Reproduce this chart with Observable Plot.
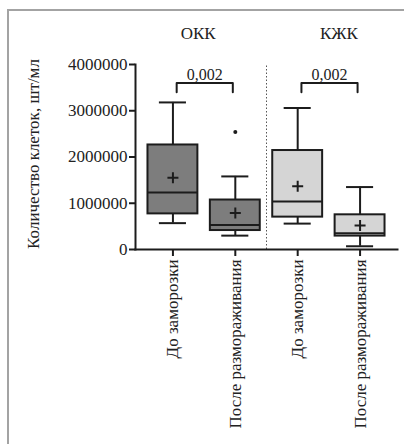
<!DOCTYPE html>
<html>
<head>
<meta charset="utf-8">
<script src="https://cdn.jsdelivr.net/npm/d3@7"></script>
<script src="https://cdn.jsdelivr.net/npm/@observablehq/plot@0.6"></script>
<style>
  html, body { margin: 0; padding: 0; background: #fff; }
  #wrap { position: relative; width: 404px; height: 444px; overflow: hidden; }
  #border { position: absolute; left: 7px; top: 9px; right: -4px; bottom: -4px;
            border-left: 2px solid #a3a3a3; border-top: 2px solid #a3a3a3; }
  #chart { position: absolute; left: 0; top: 0; }
</style>
</head>
<body>
<div id="wrap"><div id="border"></div><div id="chart"></div></div>
<script>
const groups = ["ОКК", "КЖК"];
const stages = ["До заморозки", "После размораживания"];
const q1 = [770000, 410000, 700000, 290000];
const median = [1230000, 530000, 1040000, 350000];
const q3 = [2260000, 1070000, 2140000, 750000];
const whiskerLow = [570000, 300000, 560000, 70000];
const whiskerHigh = [3180000, 1580000, 3060000, 1350000];
const mean = [1550000, 790000, 1370000, 520000];
const outlierIndex = [1];
const outlierValue = [2540000];
const pValues = ["0,002", "0,002"];
const yTicks = [0, 1000000, 2000000, 3000000, 4000000];
const yLabel = "Количество клеток, шт/мл";

const boxes = q1.map((_, i) => ({
  i, group: groups[Math.floor(i / 2)], stage: stages[i % 2],
  q1: q1[i], median: median[i], q3: q3[i],
  lo: whiskerLow[i], hi: whiskerHigh[i], mean: mean[i]
}));
const outliers = outlierIndex.map((i, k) => ({ i, value: outlierValue[k] }));

const half = 0.4, cap = 0.217;
const bTop = 3600000, bLeg = 3400000;
const brackets = pValues.map((p, g) => ({ g, x1: 2 * g + 0.06, x2: 2 * g + 0.96, p }));
const bracketPts = brackets.flatMap(b => [
  { g: b.g, x: b.x1, y: bLeg }, { g: b.g, x: b.x1, y: bTop },
  { g: b.g, x: b.x2, y: bTop }, { g: b.g, x: b.x2, y: bLeg }
]);
const titleShift = [-6, 10];

const plusSymbol = {
  draw(ctx, size) {
    const r = Math.sqrt(size / Math.PI);
    ctx.moveTo(-r, 0); ctx.lineTo(r, 0);
    ctx.moveTo(0, -r); ctx.lineTo(0, r);
  }
};

const ink = "#1c1c1c";
const chart = Plot.plot({
  width: 404, height: 444,
  marginTop: 64, marginBottom: 195, marginLeft: 135, marginRight: 7,
  style: { fontFamily: "'Liberation Serif', 'Times New Roman', serif", fontSize: "17px", color: "#222", background: "transparent" },
  x: { domain: [-0.6, 3.6], axis: null },
  y: { domain: [0, 4000000], axis: null },
  color: { domain: groups, range: ["#7d7d7d", "#d5d5d5"] },
  marks: [
    Plot.ruleX(boxes, { x: "i", y1: "q3", y2: "hi", stroke: ink, strokeWidth: 2 }),
    Plot.ruleX(boxes, { x: "i", y1: "lo", y2: "q1", stroke: ink, strokeWidth: 2 }),
    Plot.ruleY(boxes, { x1: d => d.i - cap, x2: d => d.i + cap, y: "hi", stroke: ink, strokeWidth: 2 }),
    Plot.ruleY(boxes, { x1: d => d.i - cap, x2: d => d.i + cap, y: "lo", stroke: ink, strokeWidth: 2 }),
    Plot.rectY(boxes, { x1: d => d.i - half, x2: d => d.i + half, y1: "q1", y2: "q3", fill: "group", stroke: ink, strokeWidth: 2 }),
    Plot.ruleY(boxes, { x1: d => d.i - half, x2: d => d.i + half, y: "median", stroke: ink, strokeWidth: 2 }),
    Plot.dot(boxes, { x: "i", y: "mean", r: 5.5, symbol: plusSymbol, fill: "none", stroke: ink, strokeWidth: 2 }),
    Plot.dot(outliers, { x: "i", y: "value", r: 2, fill: ink, stroke: "none" }),
    Plot.ruleX([1.5], { y1: 0, y2: 4000000, stroke: "#555", strokeWidth: 1, strokeDasharray: "1.5,2" }),
    Plot.line(bracketPts, { x: "x", y: "y", z: "g", stroke: ink, strokeWidth: 2 }),
    Plot.text(brackets, { x: d => (d.x1 + d.x2) / 2, y: () => bTop, text: "p", lineAnchor: "bottom", dy: -3, fontSize: 16, fill: "#222" }),
    ...groups.map((t, g) => Plot.text([t], { x: () => 2 * g + 0.5, frameAnchor: "top", textAnchor: "middle", lineAnchor: "middle", dy: -31, dx: titleShift[g], text: d => d, fontSize: 17, fill: "#222" })),
    Plot.text([yLabel], { frameAnchor: "left", textAnchor: "middle", dx: -102, dy: -3, rotate: -90, text: d => d, fontSize: 17, fill: "#222" }),
    Plot.axisY({ ticks: yTicks, tickFormat: d => String(d), tickSize: 6, tickPadding: 2, label: null, strokeWidth: 2, stroke: ink, fontSize: 17 }),
    Plot.axisX({ ticks: boxes.map(d => d.i), tickFormat: d => stages[d % 2], tickRotate: -90, tickSize: 7, tickPadding: 3, label: null, strokeWidth: 2, stroke: ink, fontSize: 17 }),
    Plot.frame({ anchor: "left", stroke: ink, strokeWidth: 2 }),
    Plot.frame({ anchor: "bottom", stroke: ink, strokeWidth: 2 })
  ]
});
document.getElementById("chart").appendChild(chart);
</script>
</body>
</html>
